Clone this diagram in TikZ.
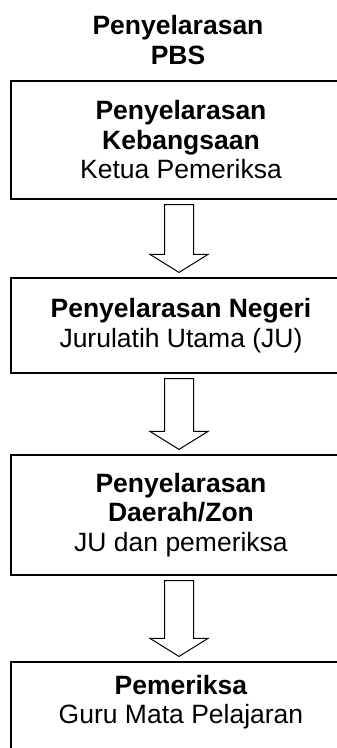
\documentclass[tikz,border=0pt]{standalone}
\usepackage{fontspec}
\setmainfont{Liberation Sans}
\usetikzlibrary{calc}

\tikzset{
  lvlbox/.style={draw, line width=1.2pt, minimum width=340pt, align=center,
    inner sep=0pt, font=\fontsize{26.5}{29.5}\selectfont},
  titletext/.style={align=center, inner sep=0pt,
    font=\bfseries\fontsize{26.5}{30}\selectfont},
  blockarrow/.style={draw, line width=1pt, fill=white, line join=miter}
}

% hollow down arrow between two stacked boxes
\newcommand{\downblock}[2]{%
  \path[blockarrow] let \p1=($(#1.south)+(-2pt,-5pt)$), \p2=($(#2.north)+(-2pt,5pt)$) in
    (\x1-14.5pt,\y1) -- (\x1+14.5pt,\y1) -- (\x1+14.5pt,\y2+18pt)
    -- (\x1+29pt,\y2+18pt) -- (\x1,\y2) -- (\x1-29pt,\y2+18pt)
    -- (\x1-14.5pt,\y2+18pt) -- cycle;}

\begin{document}
\begin{tikzpicture}[x=1pt,y=1pt]
\useasboundingbox (0,0) rectangle (337,-748);
\clip (0,0) rectangle (337,-748);

\node[titletext] (title) at (178,-40) {Penyelarasan\\PBS};

\node[lvlbox, minimum height=118pt] (b1) at (181,-140)
  {\textbf{Penyelarasan}\\\textbf{Kebangsaan}\\Ketua Pemeriksa};
\node[lvlbox, minimum height=95pt] (b2) at (181,-325.5)
  {\textbf{Penyelarasan Negeri}\\Jurulatih Utama (JU)};
\node[lvlbox, minimum height=120pt] (b3) at (181,-515)
  {\textbf{Penyelarasan}\\\textbf{Daerah/Zon}\\JU dan pemeriksa};
\node[lvlbox, minimum height=104pt] (b4) at (181,-714)
  {\textbf{Pemeriksa}\\Guru Mata Pelajaran\\\phantom{X}};

\downblock{b1}{b2}
\downblock{b2}{b3}
\downblock{b3}{b4}
\end{tikzpicture}
\end{document}
